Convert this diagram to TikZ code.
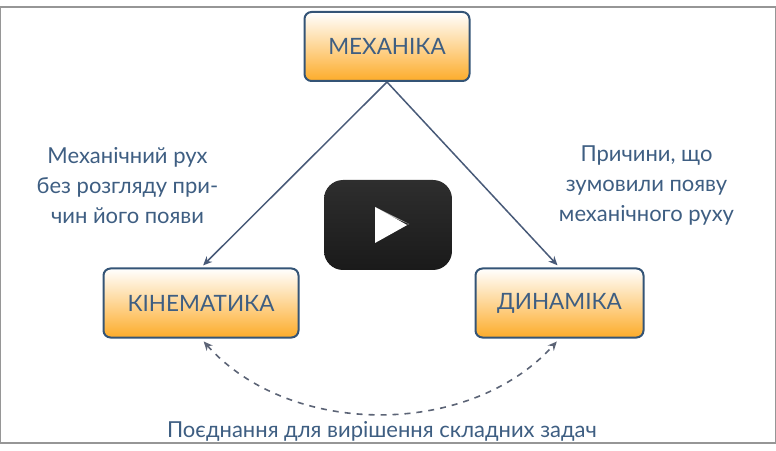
\documentclass[tikz,border=0pt]{standalone}
\usepackage{fontspec}
\setmainfont{Lato}
\usetikzlibrary{arrows.meta,positioning,calc}
\definecolor{mechtext}{RGB}{62,94,130}
\definecolor{mechedge}{RGB}{52,84,118}
\definecolor{mechfill}{RGB}{253,172,42}
\definecolor{mechline}{RGB}{72,90,120}
\definecolor{mechdash}{RGB}{92,100,118}
\definecolor{mechframe}{RGB}{150,150,150}
\definecolor{playtop}{RGB}{46,46,46}
\definecolor{playbottom}{RGB}{26,26,26}
\begin{document}
\begin{tikzpicture}[
    x=1pt, y=1pt,
    font=\fontsize{22}{30}\selectfont,
    branch/.style={draw=mechedge, line width=2pt, rounded corners=7pt, top color=white, bottom color=mechfill, text=mechtext, minimum height=69pt, font=\fontsize{22.5}{28}\selectfont},
    caption/.style={text=mechtext, align=center, inner sep=0pt},
    flow/.style={-{Stealth[length=9pt,width=8pt]}, line width=1.5pt, draw=mechline},
    joint/.style={{Stealth[length=9pt,width=8pt]}-{Stealth[length=9pt,width=8pt]}, line width=1.6pt, draw=mechdash, dash pattern=on 6pt off 6pt}
  ]
    \useasboundingbox (0,0) rectangle (776,450);
    \node[draw=mechframe, line width=1.2pt, minimum width=775pt, minimum height=436pt, inner sep=0pt] (frame) at (388,225) {};

    \node[branch, minimum width=165pt] (mechanics) at (387,403.5) {МЕХАНІКА};
    \node[branch, minimum width=195pt] (kinematics) at (201,147) {КІНЕМАТИКА};
    \node[branch, minimum width=168pt] (dynamics) at (559.5,147) {ДИНАМІКА};

    \node[caption] (kinnote) at (127.5,264) {Механічний рух\\без розгляду при-\\чин його появи};
    \node[caption] (dynnote) at (646.5,264) {Причини, що\\зумовили появу\\механічного руху};
    \node[caption] (jointnote) at (382,19) {Поєднання для вирішення складних задач};

    \draw[flow, shorten >=3pt] (mechanics.south) -- (kinematics.north);
    \draw[flow, shorten >=3pt] (mechanics.south) -- (dynamics.north);
    \draw[joint, shorten >=4pt, shorten <=4pt] (kinematics.south) .. controls (290,12) and (470,12) .. (dynamics.south);

    \node[rounded corners=19pt, minimum width=128pt, minimum height=90pt, top color=playtop, bottom color=playbottom] (play) at (388,225) {};
    \fill[white!70!black] ($(play.center)+(-13,18)$) -- ($(play.center)+(21,1)$) -- ($(play.center)+(-3,11)$) -- cycle;
    \fill[white] ($(play.center)+(-13,18)$) -- ($(play.center)+(19,0)$) -- ($(play.center)+(21,1)$) -- ($(play.center)+(-13,-18)$) -- cycle;

  \end{tikzpicture}
\end{document}
